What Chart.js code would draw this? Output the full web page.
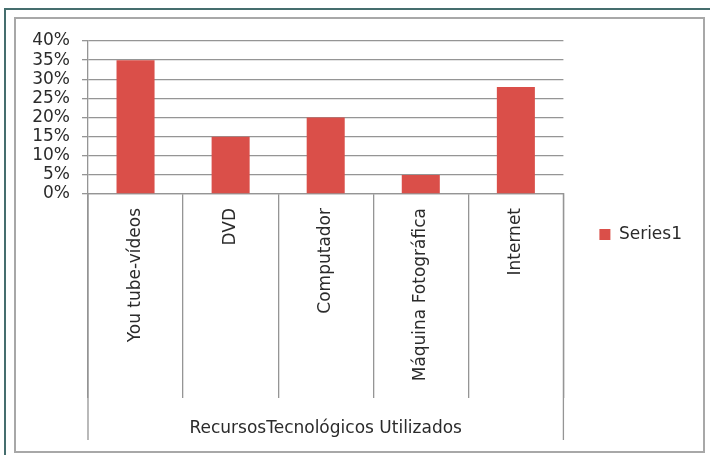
<!DOCTYPE html>
<html>
<head>
<meta charset="utf-8">
<script src="https://cdn.jsdelivr.net/npm/chart.js@4"></script>
<style>
  html, body { margin: 0; padding: 0; background: #fff; }
  #wrap { width: 710px; height: 455px; }
</style>
</head>
<body>
<div id="wrap"><canvas id="chart" width="710" height="455"></canvas></div>
<script>
const categories = ['You tube-vídeos', 'DVD', 'Computador', 'Máquina Fotográfica', 'Internet'];
const series1 = [35, 15, 20, 5, 28];
const yTicks = [0, 5, 10, 15, 20, 25, 30, 35, 40];
const axisTitle = 'RecursosTecnológicos Utilizados';
const seriesName = 'Series1';

const FONT = "'DejaVu Sans', sans-serif";
const TEXT = '#2b2b2b';
const GRID = '#959595';

// Excel style frame + long outer category dividers
const framePlugin = {
    id: 'frame',
    beforeDraw(chart) {
        const ctx = chart.ctx;
        ctx.save();
        ctx.fillStyle = '#fff';
        ctx.fillRect(0, 0, chart.width, chart.height);
        ctx.strokeStyle = '#456e6e';
        ctx.lineWidth = 2;
        ctx.beginPath();
        ctx.moveTo(5, chart.height);
        ctx.lineTo(5, 9);
        ctx.lineTo(chart.width, 9);
        ctx.stroke();
        ctx.strokeStyle = '#a8a8a8';
        ctx.lineWidth = 2;
        ctx.strokeRect(15, 18, 689, 434);
        ctx.restore();
    },
    afterDraw(chart) {
        const ctx = chart.ctx;
        const area = chart.chartArea;
        ctx.save();
        ctx.strokeStyle = GRID;
        ctx.lineWidth = 1.3;
        ctx.beginPath();
        [area.left, area.right].forEach(px => {
            ctx.moveTo(px, area.bottom);
            ctx.lineTo(px, chart.height - 15);
        });
        ctx.stroke();
        ctx.restore();
    }
};

new Chart(document.getElementById('chart'), {
    type: 'bar',
    data: {
        labels: categories,
        datasets: [{
            label: seriesName,
            data: series1,
            backgroundColor: '#da4f49',
            borderWidth: 0,
            barPercentage: 0.8,
            categoryPercentage: 0.5
        }]
    },
    options: {
        responsive: false,
        animation: false,
        devicePixelRatio: 1,
        layout: { padding: { top: 41, left: 20, right: 18, bottom: 27 } },
        plugins: {
            legend: {
                position: 'right',
                align: 'center',
                labels: {
                    boxWidth: 11,
                    boxHeight: 11,
                    padding: 36,
                    color: TEXT,
                    font: { family: FONT, size: 17 }
                }
            },
            tooltip: { enabled: false }
        },
        scales: {
            x: {
                offset: true,
                grid: {
                    offset: true,
                    drawOnChartArea: false,
                    drawTicks: true,
                    tickLength: 204,
                    color: GRID,
                    lineWidth: 1.3
                },
                border: { display: true, color: GRID, width: 1.3 },
                ticks: {
                    color: TEXT,
                    font: { family: FONT, size: 17 },
                    minRotation: 90,
                    maxRotation: 90,
                    autoSkip: false,
                    padding: -190
                },
                title: {
                    display: true,
                    text: axisTitle,
                    color: TEXT,
                    font: { family: FONT, size: 17 },
                    padding: { top: 0, bottom: -11 }
                },
                afterFit(scale) { scale.height = 234; }
            },
            y: {
                min: 0,
                max: 40,
                afterBuildTicks(scale) {
                    scale.ticks = yTicks.map(v => ({ value: v }));
                },
                grid: {
                    color: GRID,
                    lineWidth: 1.3,
                    tickLength: 6
                },
                border: { display: true, color: GRID, width: 1.3 },
                ticks: {
                    color: TEXT,
                    font: { family: FONT, size: 17 },
                    padding: 12,
                    autoSkip: false,
                    callback: v => v + '%'
                },
                afterFit(scale) { scale.width = 68; }
            }
        }
    },
    plugins: [framePlugin]
});
</script>
</body>
</html>
